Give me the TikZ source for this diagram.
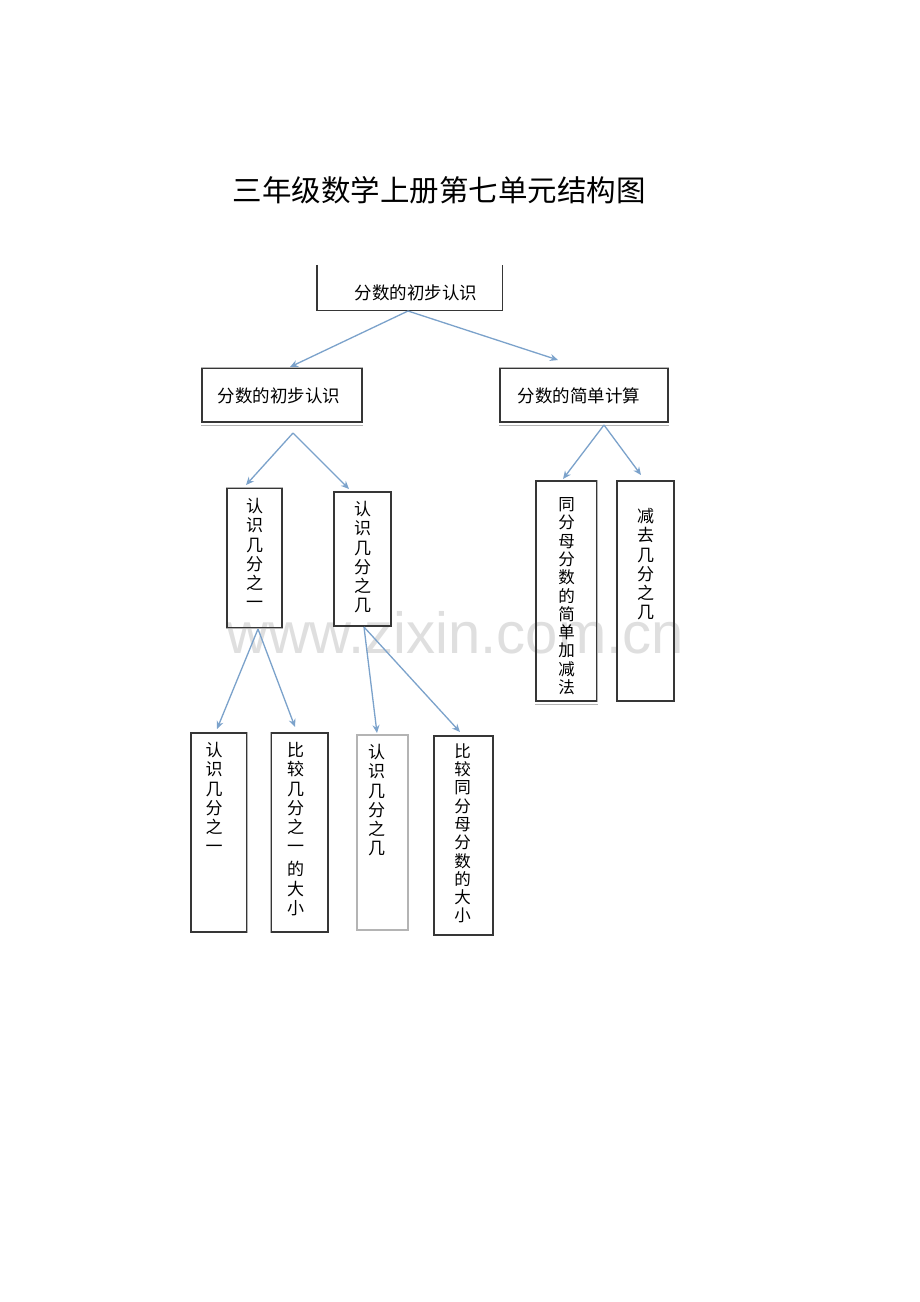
\documentclass[tikz,border=0pt]{standalone}
\usepackage{fontspec}
\newfontfamily\cjk{Noto Sans CJK SC}
\newfontfamily\wmfont{Liberation Sans}
\usetikzlibrary{arrows.meta}
\definecolor{dk}{HTML}{363636}
\definecolor{lt}{HTML}{B4B4B4}
\definecolor{arrc}{HTML}{7BA2CB}
\definecolor{wm}{HTML}{DFDFDF}
\tikzset{
  box/.style={draw=dk, line width=1.4pt, inner sep=0pt, fill=none},
  ltside/.style={draw=lt, line width=1.4pt},
  dkside/.style={draw=dk, line width=1.4pt},
  htext/.style={font=\cjk\fontsize{17.5}{20}\selectfont, inner sep=0pt, text=black},
  vtext/.style={font=\cjk\fontsize{17}{19.2}\selectfont, inner sep=0pt, align=center, anchor=north, text=black},
  vtight/.style={font=\cjk\fontsize{16.5}{18.3}\selectfont},
  arr/.style={draw=arrc, line width=1.3pt, -{Stealth[length=8pt,width=7pt]}},
}
\begin{document}
\begin{tikzpicture}[x=1pt,y=-1pt]
\useasboundingbox[fill=white] (0,0) rectangle (920,1302);

% watermark
\node[font=\wmfont\fontsize{58}{60}\selectfont, text=wm, anchor=base west, inner sep=0pt] (wmark) at (226,653) {www.zixin.com.cn};

% title
\node[font=\cjk\fontsize{29.5}{32}\selectfont, inner sep=0pt] (title) at (439,190) {三年级数学上册第七单元结构图};

% top box (open at top)
\node[inner sep=0pt, minimum width=185pt, minimum height=45pt] (T) at (409.5,287.5) {};
\draw[dkside] (T.north west) -- (T.south west) -- (T.south east) -- (T.north east);
\node[htext] (Tt) at (416,293) {分数的初步认识};

% second level
\node[box, minimum width=160pt, minimum height=54pt] (B2) at (282,395) {};
\draw[ltside] (B2.north west) -- (B2.north east);
\draw[draw=lt, line width=1pt] ([yshift=-2.5pt]B2.south west) -- ([yshift=-2.5pt]B2.south east);
\node[htext] (B2t) at (279,396) {分数的初步认识};

\node[box, minimum width=168pt, minimum height=54pt] (B3) at (584,395) {};
\draw[ltside] (B3.north west) -- (B3.north east);
\draw[draw=lt, line width=1pt] ([yshift=-2.5pt]B3.south west) -- ([yshift=-2.5pt]B3.south east);
\node[htext] (B3t) at (579,396) {分数的简单计算};

% third level
\node[box, minimum width=55pt, minimum height=140pt] (M1) at (254.5,558) {};
\draw[ltside] (M1.north west) -- (M1.north east);
\draw[ltside] (M1.south west) -- (M1.south east);
\node[vtext] (M1t) at ([yshift=-11pt]M1.north) {认\\识\\几\\分\\之\\一};

\node[box, minimum width=57pt, minimum height=134pt] (M2) at (362.5,559) {};
\node[vtext] (M2t) at ([yshift=-10pt]M2.north) {认\\识\\几\\分\\之\\几};

\node[box, minimum width=61pt, minimum height=220pt] (R1) at (566.5,591) {};
\draw[ltside] (R1.north east) -- (R1.south east);
\draw[draw=lt, line width=1pt] ([yshift=-2.5pt]R1.south west) -- ([yshift=-2.5pt]R1.south east);
\node[vtext, vtight] (R1t) at ([yshift=-17pt]R1.north) {同\\分\\母\\分\\数\\的\\简\\单\\加\\减\\法};

\node[box, minimum width=57pt, minimum height=220pt] (R2) at (645.5,591) {};
\node[vtext] (R2t) at ([yshift=-28pt]R2.north) {减\\去\\几\\分\\之\\几};

% bottom level
\node[box, minimum width=56pt, minimum height=199pt] (L1) at (219,832.5) {};
\draw[ltside] (L1.north east) -- (L1.south east);
\node[vtext] (L1t) at ([xshift=-5pt,yshift=-10pt]L1.north) {认\\识\\几\\分\\之\\一};

\node[box, minimum width=57pt, minimum height=199pt] (L2) at (299.5,832.5) {};
\draw[ltside] (L2.north west) -- (L2.south west);
\node[vtext] (L2t) at ([xshift=-4pt,yshift=-10pt]L2.north) {比\\较\\几\\分\\之\\一\\[4pt]的\\大\\小};

\node[box, draw=lt, minimum width=51pt, minimum height=195pt] (L3) at (382.5,832.5) {};
\node[vtext] (L3t) at ([xshift=-6pt,yshift=-10pt]L3.north) {认\\识\\几\\分\\之\\几};

\node[box, minimum width=59pt, minimum height=199pt] (L4) at (463.5,835.5) {};
\node[vtext, vtight] (L4t) at ([xshift=-1pt,yshift=-8pt]L4.north) {比\\较\\同\\分\\母\\分\\数\\的\\大\\小};

% connector anchor points
\coordinate (To) at (408,311);
\coordinate (B2o) at (293,433);
\coordinate (B3o) at (604,425);
\coordinate (M1o) at (258,629);
\coordinate (M2o) at (364,627);
\coordinate (B2i) at (290,367);
\coordinate (B3i) at (558,360);
\coordinate (M1i) at (246,485);
\coordinate (M2i) at (349,489);
\coordinate (R1i) at (563,479);
\coordinate (R2i) at (641,475);
\coordinate (L1i) at (217,729);
\coordinate (L2i) at (295,727);
\coordinate (L3i) at (377,733);
\coordinate (L4i) at (460,732);

\draw[arr] (To) -- (B2i);
\draw[arr] (To) -- (B3i);
\draw[arr] (B2o) -- (M1i);
\draw[arr] (B2o) -- (M2i);
\draw[arr] (B3o) -- (R1i);
\draw[arr] (B3o) -- (R2i);
\draw[arr] (M1o) -- (L1i);
\draw[arr] (M1o) -- (L2i);
\draw[arr] (M2o) -- (L3i);
\draw[arr] (M2o) -- (L4i);
\end{tikzpicture}
\end{document}
